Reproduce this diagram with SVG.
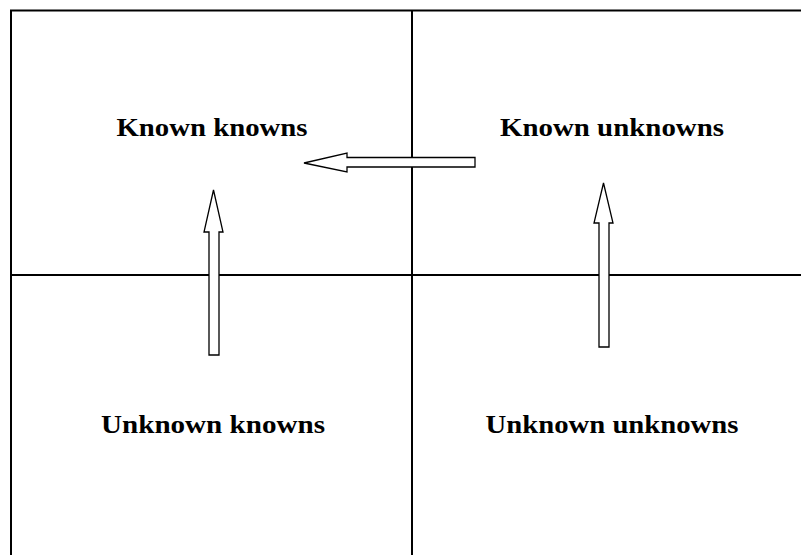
<svg xmlns="http://www.w3.org/2000/svg" width="801" height="555" viewBox="0 0 801 555">
<style>
.ln{stroke:#000;stroke-width:2;fill:none}
.ar{fill:#fff;stroke:#000;stroke-width:1.3;stroke-linejoin:miter}
.lb{font-family:"Liberation Serif","Times New Roman",serif;font-weight:bold;font-size:25px;fill:#000;text-anchor:middle}
</style>
<rect width="801" height="555" fill="#fff"/>
<g id="grid">
<path class="ln" d="M11,555 V10.5 H801"/>
<path class="ln" d="M412,10 V555"/>
<path class="ln" d="M11,275 H801"/>
</g>
<g id="kk"><text class="lb" x="212" y="136" textLength="191" lengthAdjust="spacingAndGlyphs">Known knowns</text></g>
<g id="ku"><text class="lb" x="612" y="136" textLength="224" lengthAdjust="spacingAndGlyphs">Known unknowns</text></g>
<g id="uk"><text class="lb" x="213" y="433" textLength="224" lengthAdjust="spacingAndGlyphs">Unknown knowns</text></g>
<g id="uu"><text class="lb" x="612" y="433" textLength="253" lengthAdjust="spacingAndGlyphs">Unknown unknowns</text></g>
<g id="connectors">
<path class="ar" d="M475,157.5 V167 H347 V172 L304,163 L347,153 V157.5 Z"/>
<path class="ar" d="M209,355 H219 V232 H223 L213.5,190 L204,232 H209 Z"/>
<path class="ar" d="M599,347 H609 V223 H613 L603.5,183 L594,223 H599 Z"/>
</g>
</svg>
